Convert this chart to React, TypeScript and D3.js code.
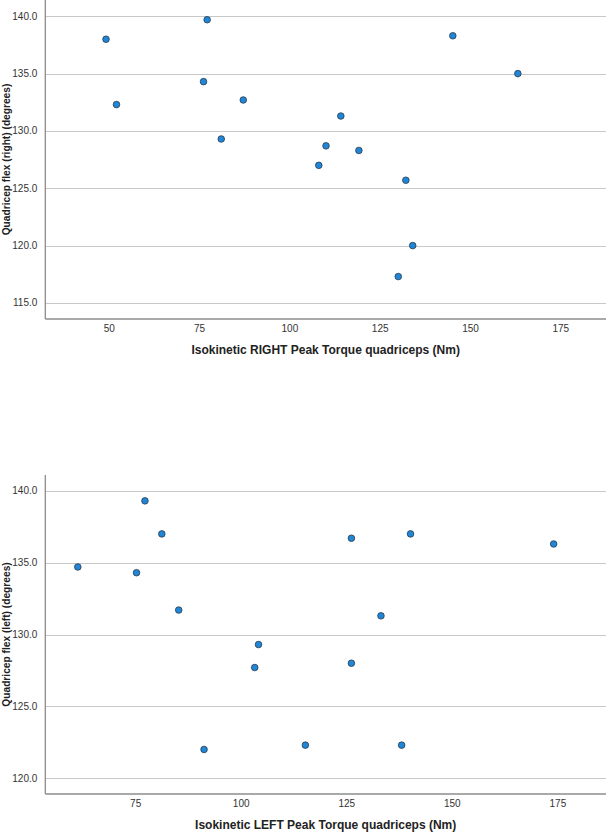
import React, { useEffect, useRef } from 'react';
import * as d3 from 'd3';

// right leg
const rightTorque = [49.1, 77.1, 52.0, 76.1, 87.1, 81.0, 145.1, 163.1, 114.1, 110.0, 119.1, 108.0, 132.1, 134.0, 130.0];
const rightFlex = [138.0, 139.7, 132.3, 134.3, 132.7, 129.3, 138.3, 135.0, 131.3, 128.7, 128.3, 127.0, 125.7, 120.0, 117.3];

// left leg
const leftTorque = [61.3, 77.2, 81.2, 75.2, 85.2, 104.1, 103.2, 126.1, 140.1, 174.0, 133.1, 126.1, 91.2, 115.2, 138.0];
const leftFlex = [134.7, 139.3, 137.0, 134.3, 131.7, 129.3, 127.7, 136.7, 137.0, 136.3, 131.3, 128.0, 122.0, 122.3, 122.3];

const rightXTicks = [50, 75, 100, 125, 150, 175];
const rightYTicks = [115, 120, 125, 130, 135, 140];
const leftXTicks = [75, 100, 125, 150, 175];
const leftYTicks = [120, 125, 130, 135, 140];

const W = 608;
const H = 832;
const FONT = 'Liberation Sans, Arial, sans-serif';

const App = () => {
  const svgRef = useRef<SVGSVGElement>(null);

  useEffect(() => {
    const svg = d3.select(svgRef.current);
    svg.selectAll('*').remove();

    const drawPanel = (opts) => {
      const { top, bottom, left, right, xDomain, yDomain, xs, ys, xTicks, yTicks, xTitle, yTitle } = opts;
      const x = d3.scaleLinear().domain(xDomain).range([left, right]);
      const y = d3.scaleLinear().domain(yDomain).range([bottom, top]);
      const g = svg.append('g');

      // gridlines
      g.selectAll('.grid')
        .data(yTicks)
        .enter().append('line')
        .attr('x1', left)
        .attr('x2', right)
        .attr('y1', d => Math.round(y(d)) + 0.5)
        .attr('y2', d => Math.round(y(d)) + 0.5)
        .attr('stroke', '#c8c8c8')
        .attr('stroke-width', 1);

      // axis lines
      g.append('line')
        .attr('x1', left).attr('x2', left)
        .attr('y1', top).attr('y2', bottom)
        .attr('stroke', '#8c8c8c').attr('stroke-width', 1.3);
      g.append('line')
        .attr('x1', left).attr('x2', right)
        .attr('y1', bottom).attr('y2', bottom)
        .attr('stroke', '#8c8c8c').attr('stroke-width', 1.6);

      // tick labels
      g.selectAll('.ytick')
        .data(yTicks)
        .enter().append('text')
        .attr('x', left - 8)
        .attr('y', d => y(d))
        .attr('dy', '0.35em')
        .attr('text-anchor', 'end')
        .style('font-family', FONT)
        .style('font-size', '10px')
        .attr('fill', '#333')
        .text(d => d3.format('.1f')(d));

      g.selectAll('.xtick')
        .data(xTicks)
        .enter().append('text')
        .attr('x', d => x(d))
        .attr('y', bottom + 13)
        .attr('text-anchor', 'middle')
        .style('font-family', FONT)
        .style('font-size', '10px')
        .attr('fill', '#333')
        .text(d => d);

      // titles
      g.append('text')
        .attr('x', (left + right) / 2)
        .attr('y', bottom + 35)
        .attr('text-anchor', 'middle')
        .style('font-family', FONT)
        .style('font-weight', 'bold')
        .style('font-size', '12px')
        .attr('fill', '#222')
        .text(xTitle);

      g.append('text')
        .attr('transform', `translate(10,${(top + bottom) / 2}) rotate(-90)`)
        .attr('text-anchor', 'middle')
        .style('font-family', FONT)
        .style('font-weight', 'bold')
        .style('font-size', '10.2px')
        .attr('fill', '#222')
        .text(yTitle);

      // points
      g.selectAll('.pt')
        .data(xs.map((v, i) => [v, ys[i]]))
        .enter().append('circle')
        .attr('cx', d => x(d[0]))
        .attr('cy', d => y(d[1]))
        .attr('r', 3.3)
        .attr('fill', '#1f86d8')
        .attr('stroke', '#2b3a4a')
        .attr('stroke-width', 0.8);
    };

    drawPanel({
      top: 0, bottom: 319, left: 45.3, right: 606,
      xDomain: [32.3, 187.5], yDomain: [113.6, 141.42],
      xs: rightTorque, ys: rightFlex,
      xTicks: rightXTicks, yTicks: rightYTicks,
      xTitle: 'Isokinetic RIGHT Peak Torque quadriceps (Nm)',
      yTitle: 'Quadricep flex (right) (degrees)',
    });

    drawPanel({
      top: 475, bottom: 794, left: 45.3, right: 606,
      xDomain: [53.6, 186.4], yDomain: [118.9, 141.1],
      xs: leftTorque, ys: leftFlex,
      xTicks: leftXTicks, yTicks: leftYTicks,
      xTitle: 'Isokinetic LEFT Peak Torque quadriceps (Nm)',
      yTitle: 'Quadricep flex (left) (degrees)',
    });
  }, []);

  return (
    <div style={{ position: 'absolute', left: 0, top: 0, width: W, height: H, background: '#fff' }}>
      <svg ref={svgRef} width={W} height={H} />
    </div>
  );
};

export default App;
